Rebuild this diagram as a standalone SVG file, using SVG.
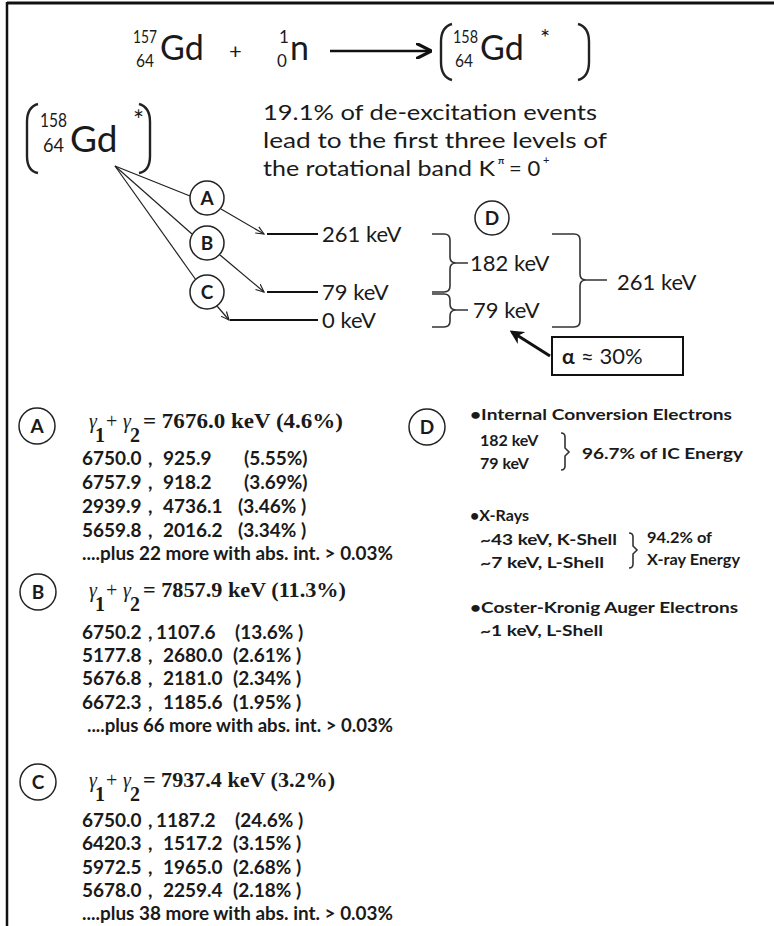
<svg xmlns="http://www.w3.org/2000/svg" width="774" height="926" viewBox="0 0 774 926">
<defs>
<marker id="open" viewBox="0 0 10 10" refX="9" refY="5" markerWidth="9" markerHeight="9" markerUnits="userSpaceOnUse" orient="auto"><path d="M0,1 L9,5 L0,9" fill="none" stroke="#222" stroke-width="1.3"/></marker>
<marker id="big" viewBox="0 0 10 10" refX="9" refY="5" markerWidth="16" markerHeight="16" markerUnits="userSpaceOnUse" orient="auto"><path d="M0,0 L10,5 L0,10" fill="none" stroke="#111" stroke-width="2"/></marker>
<marker id="solid" viewBox="0 0 10 10" refX="8" refY="5" markerWidth="14" markerHeight="14" markerUnits="userSpaceOnUse" orient="auto"><path d="M0,0 L10,5 L0,10 L3,5 Z" fill="#111"/></marker>
</defs>
<style>
text{fill:#1a1a1a;font-family:Lato,"Open Sans","Liberation Sans",sans-serif}
.big{font-size:34px}
.sup{font-size:17px}
.lab{font-size:22px}
.row{font-size:19px;font-weight:bold}
.d{font-size:16px;font-weight:bold}
.ser{font-family:"Liberation Serif","DejaVu Serif",serif;font-size:20px}
.circ{fill:#fff;stroke:#222;stroke-width:1.5}
.ln{stroke:#222;stroke-width:1.2;fill:none}
.lvl{stroke:#111;stroke-width:2.2;fill:none}
.br{stroke:#333;stroke-width:1.6;fill:none}
.pa{stroke:#222;stroke-width:2.4;fill:none}
.cl{font-size:19px;font-weight:bold;text-anchor:middle}
</style>
<rect width="774" height="926" fill="#fff"/>
<g id="frame">
<line x1="7" y1="3" x2="774" y2="3" stroke="#111" stroke-width="3"/>
<line x1="7" y1="2" x2="7" y2="926" stroke="#111" stroke-width="2.5"/>
</g>
<g id="reaction">
<text x="133" y="43" class="sup" textLength="24" lengthAdjust="spacingAndGlyphs">157</text>
<text x="136" y="67" class="sup" textLength="18" lengthAdjust="spacingAndGlyphs">64</text>
<text x="160" y="60" class="big">Gd</text>
<text x="229" y="59" font-size="22">+</text>
<text x="279" y="43" class="sup">1</text>
<text x="277" y="67" class="sup">0</text>
<text x="290" y="60" class="big">n</text>
<line x1="330" y1="51" x2="430" y2="51" stroke="#111" stroke-width="2.6" marker-end="url(#big)"/>
<path class="pa" d="M452,24 Q441,27 441,42 L441,62 Q441,77 452,80"/>
<text x="453" y="43" class="sup" textLength="25" lengthAdjust="spacingAndGlyphs">158</text>
<text x="455" y="67" class="sup" textLength="18" lengthAdjust="spacingAndGlyphs">64</text>
<text x="480" y="60" class="big">Gd</text>
<text x="540" y="46" font-size="24">*</text>
<path class="pa" d="M578,24 Q589,27 589,42 L589,62 Q589,77 578,80"/>
</g>
<g id="gd-excited">
<path class="pa" d="M38,104 Q27,107 27,122 L27,156 Q27,171 38,173"/>
<text x="40" y="127" font-size="20" textLength="27" lengthAdjust="spacingAndGlyphs">158</text>
<text x="43" y="152" font-size="20" textLength="21" lengthAdjust="spacingAndGlyphs">64</text>
<text x="70" y="152" font-size="37">Gd</text>
<text x="133" y="130" font-size="26">*</text>
<path class="pa" d="M139,104 Q150,107 150,122 L150,156 Q150,171 139,173"/>
</g>
<g id="note">
<text x="263" y="120" class="lab" textLength="334" lengthAdjust="spacingAndGlyphs">19.1% of de-excitation events</text>
<text x="263" y="148" class="lab" textLength="344" lengthAdjust="spacingAndGlyphs">lead to the first  three levels of</text>
<text x="263" y="176" class="lab"><tspan textLength="232" lengthAdjust="spacingAndGlyphs">the rotational band K</tspan><tspan x="498" dy="-12" font-size="10" font-weight="bold">π</tspan><tspan x="509" dy="12">= 0</tspan><tspan x="543" dy="-12" font-size="11">+</tspan></text>
</g>
<g id="connectors">
<line class="ln" x1="115" y1="166" x2="190" y2="196"/>
<line class="ln" x1="115" y1="166" x2="192" y2="234"/>
<line class="ln" x1="115" y1="166" x2="196" y2="280"/>
<line class="ln" x1="221" y1="209" x2="264" y2="234" marker-end="url(#open)"/>
<line class="ln" x1="220" y1="255" x2="264" y2="292" marker-end="url(#open)"/>
<line class="ln" x1="217" y1="306" x2="229" y2="320" marker-end="url(#open)"/>
<line x1="550" y1="356" x2="512" y2="332" stroke="#111" stroke-width="3" marker-end="url(#solid)"/>
</g>
<g id="node-A"><circle class="circ" cx="207" cy="198" r="17"/><text x="207" y="205" class="cl">A</text></g>
<g id="node-B"><circle class="circ" cx="207" cy="243" r="17"/><text x="207" y="250" class="cl">B</text></g>
<g id="node-C"><circle class="circ" cx="207" cy="292" r="17"/><text x="207" y="299" class="cl">C</text></g>
<g id="levels">
<line class="lvl" x1="267" y1="234" x2="318" y2="234"/>
<text x="322" y="242" class="lab">261 keV</text>
<line class="lvl" x1="267" y1="292" x2="318" y2="292"/>
<text x="322" y="300" class="lab">79 keV</text>
<line class="lvl" x1="230" y1="320" x2="318" y2="320"/>
<text x="322" y="328" class="lab">0 keV</text>
</g>
<g id="node-D"><circle class="circ" cx="492" cy="218" r="17"/><text x="492" y="225" class="cl">D</text></g>
<g id="transitions">
<path class="br" d="M432,234 L444,234 Q450,234 450,240 L450,257 Q450,263 456,263 L468,263 M456,263 Q450,263 450,269 L450,286 Q450,292 444,292 L432,292"/>
<text x="470" y="271" class="lab">182 keV</text>
<path class="br" d="M432,294 L444,294 Q450,294 450,300 L450,304 Q450,310 456,310 L468,310 M456,310 Q450,310 450,316 L450,321 Q450,327 444,327 L432,327"/>
<text x="473" y="318" class="lab">79 keV</text>
<path class="br" d="M552,234 L574,234 Q580,234 580,240 L580,274 Q580,280 586,280 L607,280 M586,280 Q580,280 580,286 L580,321 Q580,327 574,327 L552,327"/>
<text x="617" y="290" class="lab">261 keV</text>
</g>
<g id="alpha">
<rect x="552" y="337" width="131" height="38" fill="#fff" stroke="#111" stroke-width="2"/>
<text x="562" y="364" font-family="Liberation Serif,serif" font-size="21" font-weight="bold">α</text>
<text x="581" y="364" class="lab">≈ 30%</text>
</g>
<g id="sec-A">
<circle class="circ" cx="37" cy="426" r="18"/><text x="37" y="433" class="cl">A</text>
<text x="89" y="428" class="ser" font-style="italic">γ</text>
<text x="95" y="442" class="ser" font-size="15" font-weight="bold">1</text>
<text x="106" y="428" class="ser">+</text>
<text x="123" y="428" class="ser" font-style="italic">γ</text>
<text x="130" y="442" class="ser" font-size="15" font-weight="bold">2</text>
<text x="143" y="428" class="ser" font-weight="bold" textLength="200" lengthAdjust="spacingAndGlyphs">= 7676.0 keV  (4.6%)</text>
<text y="465" class="row"><tspan x="82">6750.0</tspan><tspan x="148">,</tspan><tspan x="163">925.9</tspan><tspan x="244">(5.55%)</tspan></text>
<text y="489" class="row"><tspan x="82">6757.9</tspan><tspan x="148">,</tspan><tspan x="163">918.2</tspan><tspan x="244">(3.69%)</tspan></text>
<text y="513" class="row"><tspan x="82">2939.9</tspan><tspan x="148">,</tspan><tspan x="163">4736.1</tspan><tspan x="238">(3.46% )</tspan></text>
<text y="537" class="row"><tspan x="82">5659.8</tspan><tspan x="148">,</tspan><tspan x="163">2016.2</tspan><tspan x="238">(3.34% )</tspan></text>
<text x="82" y="560" class="row" font-size="17" textLength="311" lengthAdjust="spacingAndGlyphs">....plus 22 more with abs. int. &gt; 0.03%</text>
</g>
<g id="sec-B">
<circle class="circ" cx="38" cy="592" r="18"/><text x="38" y="599" class="cl">B</text>
<text x="89" y="597" class="ser" font-style="italic">γ</text>
<text x="95" y="611" class="ser" font-size="15" font-weight="bold">1</text>
<text x="106" y="597" class="ser">+</text>
<text x="123" y="597" class="ser" font-style="italic">γ</text>
<text x="130" y="611" class="ser" font-size="15" font-weight="bold">2</text>
<text x="143" y="597" class="ser" font-weight="bold" textLength="203" lengthAdjust="spacingAndGlyphs">= 7857.9 keV  (11.3%)</text>
<text y="639" class="row"><tspan x="82">6750.2</tspan><tspan x="148">,</tspan><tspan x="156">1107.6</tspan><tspan x="235">(13.6% )</tspan></text>
<text y="662" class="row"><tspan x="82">5177.8</tspan><tspan x="148">,</tspan><tspan x="163">2680.0</tspan><tspan x="233">(2.61% )</tspan></text>
<text y="685" class="row"><tspan x="82">5676.8</tspan><tspan x="148">,</tspan><tspan x="163">2181.0</tspan><tspan x="233">(2.34% )</tspan></text>
<text y="709" class="row"><tspan x="82">6672.3</tspan><tspan x="148">,</tspan><tspan x="163">1185.6</tspan><tspan x="233">(1.95% )</tspan></text>
<text x="87" y="732" class="row" font-size="17" textLength="306" lengthAdjust="spacingAndGlyphs">....plus 66 more with abs. int. &gt; 0.03%</text>
</g>
<g id="sec-C">
<circle class="circ" cx="38" cy="782" r="18"/><text x="38" y="789" class="cl">C</text>
<text x="89" y="787" class="ser" font-style="italic">γ</text>
<text x="95" y="801" class="ser" font-size="15" font-weight="bold">1</text>
<text x="106" y="787" class="ser">+</text>
<text x="123" y="787" class="ser" font-style="italic">γ</text>
<text x="130" y="801" class="ser" font-size="15" font-weight="bold">2</text>
<text x="143" y="787" class="ser" font-weight="bold" textLength="192" lengthAdjust="spacingAndGlyphs">= 7937.4 keV  (3.2%)</text>
<text y="827" class="row"><tspan x="82">6750.0</tspan><tspan x="148">,</tspan><tspan x="156">1187.2</tspan><tspan x="235">(24.6% )</tspan></text>
<text y="850" class="row"><tspan x="82">6420.3</tspan><tspan x="148">,</tspan><tspan x="163">1517.2</tspan><tspan x="233">(3.15% )</tspan></text>
<text y="874" class="row"><tspan x="82">5972.5</tspan><tspan x="148">,</tspan><tspan x="163">1965.0</tspan><tspan x="233">(2.68% )</tspan></text>
<text y="897" class="row"><tspan x="82">5678.0</tspan><tspan x="148">,</tspan><tspan x="163">2259.4</tspan><tspan x="233">(2.18% )</tspan></text>
<text x="82" y="920" class="row" font-size="17" textLength="311" lengthAdjust="spacingAndGlyphs">....plus 38 more with abs. int. &gt; 0.03%</text>
</g>
<g id="sec-D">
<circle class="circ" cx="427" cy="427" r="18"/><text x="427" y="434" class="cl">D</text>
<text x="470" y="420" class="d" textLength="262" lengthAdjust="spacingAndGlyphs">•Internal Conversion Electrons</text>
<text x="480" y="446" class="d">182 keV</text>
<text x="480" y="469" class="d">79 keV</text>
<path class="br" stroke-width="1.2" d="M561,433 Q565,433 565,437 L565,448 L569,452 L565,456 L565,466 Q565,470 561,470"/>
<text x="582" y="459" class="d" textLength="161" lengthAdjust="spacingAndGlyphs">96.7% of IC Energy</text>
<text x="470" y="521" class="d">•X-Rays</text>
<text x="480" y="545" class="d" textLength="137" lengthAdjust="spacingAndGlyphs">~43 keV, K-Shell</text>
<text x="480" y="568" class="d" textLength="124" lengthAdjust="spacingAndGlyphs">~7 keV, L-Shell</text>
<path class="br" stroke-width="1.2" d="M629,533 Q633,533 633,537 L633,546 L637,550 L633,554 L633,564 Q633,568 629,568"/>
<text x="647" y="543" class="d" font-size="14" textLength="65" lengthAdjust="spacingAndGlyphs">94.2% of</text>
<text x="647" y="565" class="d" font-size="14" textLength="93" lengthAdjust="spacingAndGlyphs">X-ray Energy</text>
<text x="470" y="613" class="d" textLength="268" lengthAdjust="spacingAndGlyphs">•Coster-Kronig Auger Electrons</text>
<text x="480" y="636" class="d" textLength="123" lengthAdjust="spacingAndGlyphs">~1 keV, L-Shell</text>
</g>
</svg>
